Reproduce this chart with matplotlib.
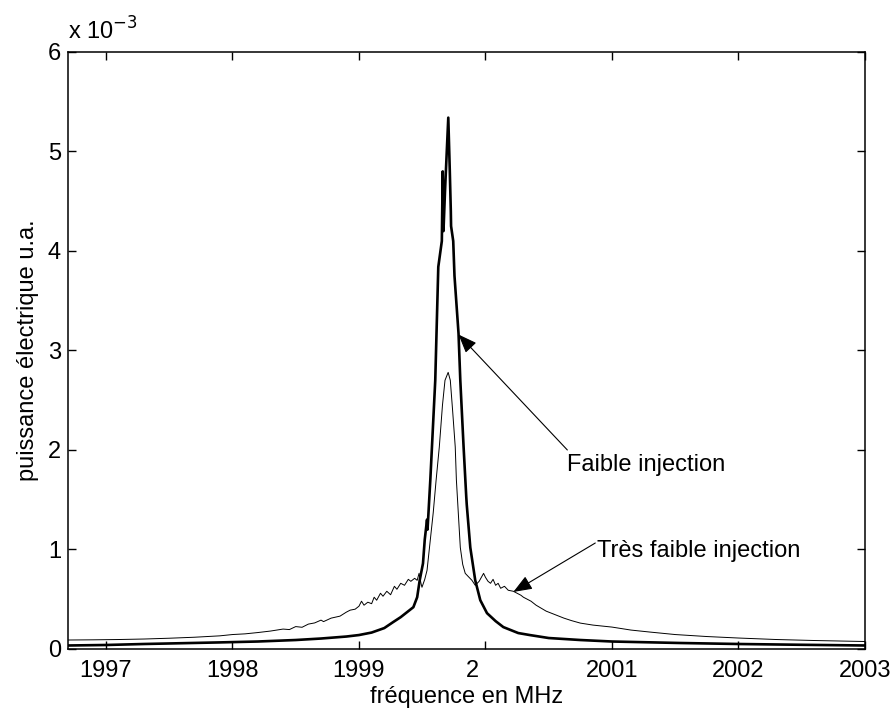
import matplotlib.pyplot as plt
from matplotlib.transforms import ScaledTranslation

plt.rcParams['font.family'] = ['Liberation Sans', 'DejaVu Sans']

# very weak injection (thin line), values in units of 1e-3
f_weak2 = [1996.70, 1996.90, 1997.10, 1997.30, 1997.50, 1997.70, 1997.90, 1998.00,
           1998.10, 1998.20, 1998.30, 1998.40, 1998.45, 1998.50, 1998.55, 1998.60,
           1998.65, 1998.70, 1998.72, 1998.78, 1998.85, 1998.90, 1998.93, 1998.97,
           1999.00, 1999.02, 1999.04, 1999.07, 1999.10, 1999.12, 1999.14, 1999.17,
           1999.19, 1999.22, 1999.25, 1999.28, 1999.30, 1999.33, 1999.36, 1999.39,
           1999.41, 1999.44, 1999.46, 1999.475, 1999.49, 1999.498, 1999.52, 1999.538,
           1999.56, 1999.587, 1999.61, 1999.635, 1999.66, 1999.68, 1999.705, 1999.722,
           1999.74, 1999.761, 1999.77, 1999.785, 1999.801, 1999.82, 1999.84, 1999.87,
           1999.893, 1999.919, 1999.95, 1999.985, 2000.00, 2000.02, 2000.04, 2000.06,
           2000.08, 2000.10, 2000.12, 2000.15, 2000.18, 2000.22, 2000.25, 2000.28,
           2000.30, 2000.33, 2000.36, 2000.40, 2000.44, 2000.48, 2000.52, 2000.56,
           2000.62, 2000.68, 2000.75, 2000.85, 2001.00, 2001.15, 2001.30, 2001.50,
           2001.75, 2002.00, 2002.30, 2002.60, 2003.00]
p_weak2 = [0.090, 0.092, 0.095, 0.100, 0.108, 0.118, 0.132, 0.145,
           0.152, 0.165, 0.180, 0.200, 0.195, 0.225, 0.218, 0.250,
           0.262, 0.290, 0.275, 0.310, 0.330, 0.370, 0.390, 0.400,
           0.430, 0.480, 0.440, 0.470, 0.455, 0.520, 0.490, 0.560,
           0.530, 0.580, 0.545, 0.630, 0.600, 0.660, 0.640, 0.700,
           0.680, 0.710, 0.690, 0.760, 0.660, 0.620, 0.700, 0.790,
           1.050, 1.370, 1.700, 2.030, 2.450, 2.700, 2.780, 2.700,
           2.400, 2.030, 1.700, 1.370, 1.020, 0.850, 0.760, 0.720,
           0.690, 0.640, 0.680, 0.760, 0.720, 0.680, 0.660, 0.700,
           0.640, 0.660, 0.610, 0.630, 0.590, 0.580, 0.560, 0.540,
           0.520, 0.500, 0.480, 0.440, 0.410, 0.380, 0.360, 0.340,
           0.310, 0.285, 0.260, 0.240, 0.220, 0.190, 0.170, 0.145,
           0.125, 0.110, 0.095, 0.085, 0.075]

# weak injection (thick line)
f_weak = [1996.70, 1997.00, 1997.30, 1997.60, 1997.90, 1998.20, 1998.50, 1998.70,
          1998.90, 1999.00, 1999.10, 1999.20, 1999.27, 1999.33, 1999.38, 1999.43,
          1999.46, 1999.48, 1999.506, 1999.52, 1999.538, 1999.542, 1999.564, 1999.603,
          1999.627, 1999.655, 1999.662, 1999.668, 1999.680, 1999.706, 1999.718, 1999.726,
          1999.728, 1999.745, 1999.755, 1999.787, 1999.801, 1999.827, 1999.848, 1999.852,
          1999.880, 1999.919, 1999.959, 2000.012, 2000.080, 2000.141, 2000.259, 2000.35,
          2000.50, 2000.75, 2001.00, 2001.54, 2002.00, 2002.50, 2003.00]
p_weak = [0.035, 0.040, 0.050, 0.058, 0.066, 0.075, 0.090, 0.105,
          0.125, 0.140, 0.165, 0.210, 0.270, 0.320, 0.370, 0.420,
          0.520, 0.690, 0.860, 1.100, 1.300, 1.200, 1.700, 2.700,
          3.840, 4.100, 4.800, 4.200, 4.600, 5.340, 4.800, 4.400,
          4.250, 4.100, 3.750, 3.170, 2.700, 2.030, 1.530, 1.450,
          1.020, 0.690, 0.490, 0.360, 0.280, 0.220, 0.160, 0.140,
          0.110, 0.090, 0.075, 0.060, 0.050, 0.042, 0.035]

fs = 17

fig = plt.figure(figsize=(8.96, 7.13), dpi=100)
ax = fig.add_axes([0.0759, 0.0898, 0.8895, 0.8373])

ax.plot(f_weak2, p_weak2, color='black', linewidth=0.7)
ax.plot(f_weak, p_weak, color='black', linewidth=1.9)

ax.set_xlim(1996.7, 2003)
ax.set_ylim(0, 6)
ax.set_xticks([1997, 1998, 1999, 2000, 2001, 2002, 2003])
ax.set_xticklabels(['1997', '1998', '1999', '2', '2001', '2002', '2003'])
ax.set_yticks([0, 1, 2, 3, 4, 5, 6])
ax.tick_params(direction='in', top=True, right=True, length=6, width=1,
               labelsize=fs)
ax.tick_params(axis='x', pad=8)
ax.tick_params(axis='y', pad=5)
for s in ax.spines.values():
    s.set_linewidth(1.1)

# the "2" label sits left of its tick in the original
lab = ax.get_xticklabels()[3]
lab.set_transform(lab.get_transform() + ScaledTranslation(-0.13, 0, fig.dpi_scale_trans))

ax.set_xlabel('fréquence en MHz', fontsize=fs, labelpad=3)
ax.set_ylabel('puissance électrique u.a.', fontsize=fs, labelpad=6)
ax.text(0.0, 1.012, 'x 10$^{-3}$', transform=ax.transAxes, fontsize=fs,
        ha='left', va='bottom')

arrow = dict(arrowstyle='-|>,head_length=1.15,head_width=0.45',
             color='black', lw=0.8, shrinkA=0, shrinkB=0)
ax.annotate('', xy=(1999.787, 3.16), xytext=(2000.647, 2.0), arrowprops=arrow)
ax.text(2000.647, 1.85, 'Faible injection', fontsize=fs, ha='left', va='center')
ax.annotate('', xy=(2000.22, 0.573), xytext=(2000.868, 1.065), arrowprops=arrow)
ax.text(2000.881, 0.985, 'Très faible injection', fontsize=fs, ha='left', va='center')

fig.savefig('out.png', dpi=100)
